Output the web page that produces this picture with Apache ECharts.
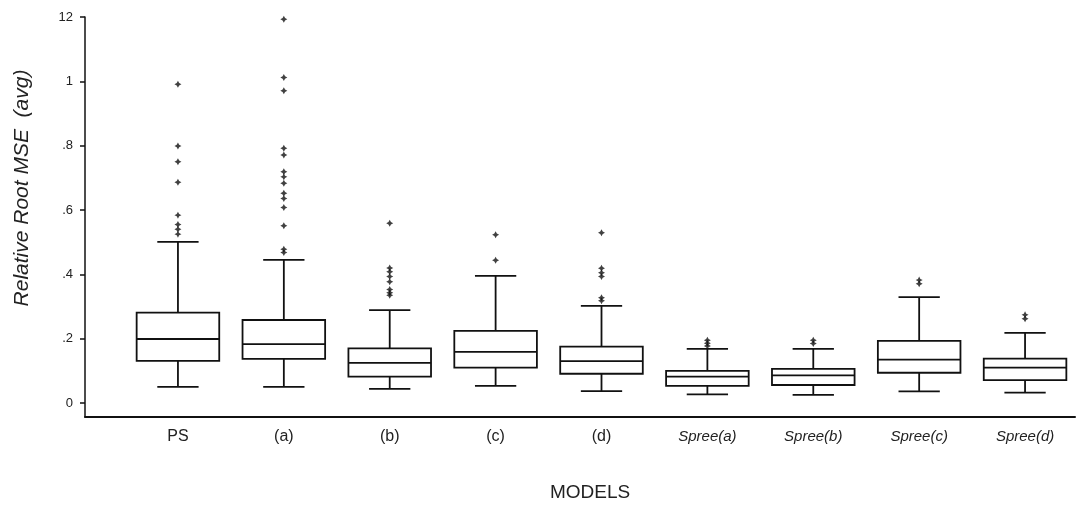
<!DOCTYPE html>
<html>
<head>
<meta charset="utf-8">
<script src="https://cdn.jsdelivr.net/npm/echarts@6/dist/echarts.min.js"></script>
<style>
  html, body { margin: 0; padding: 0; background: #fff; }
  #chart { width: 1082px; height: 513px; }
</style>
</head>
<body>
<div id="chart"></div>
<script>
// Model names along the horizontal axis
const categories = ['PS', '(a)', '(b)', '(c)', '(d)', 'Spree(a)', 'Spree(b)', 'Spree(c)', 'Spree(d)'];

// Five-number summaries of Relative Root MSE for each model
const lowerWhisker = [0.050, 0.050, 0.044, 0.053, 0.037, 0.027, 0.025, 0.036, 0.032];
const quartile1    = [0.131, 0.137, 0.082, 0.110, 0.091, 0.053, 0.056, 0.094, 0.071];
const medians      = [0.199, 0.183, 0.125, 0.159, 0.130, 0.082, 0.086, 0.135, 0.110];
const quartile3    = [0.281, 0.258, 0.170, 0.224, 0.175, 0.100, 0.106, 0.193, 0.138];
const upperWhisker = [0.501, 0.445, 0.289, 0.395, 0.302, 0.168, 0.168, 0.329, 0.218];

// Outlying observations per model
const outlierPS = [0.991, 0.799, 0.750, 0.686, 0.584, 0.555, 0.540, 0.525];
const outlierA  = [1.193, 1.012, 0.971, 0.792, 0.771, 0.719, 0.703, 0.683, 0.652, 0.636, 0.608, 0.551, 0.478, 0.468];
const outlierB  = [0.559, 0.420, 0.408, 0.393, 0.377, 0.353, 0.343, 0.335];
const outlierC  = [0.523, 0.444];
const outlierD  = [0.529, 0.419, 0.405, 0.393, 0.327, 0.318];
const outlierSA = [0.195, 0.186, 0.177];
const outlierSB = [0.195, 0.185];
const outlierSC = [0.382, 0.371];
const outlierSD = [0.274, 0.262];
const outliers = [outlierPS, outlierA, outlierB, outlierC, outlierD, outlierSA, outlierSB, outlierSC, outlierSD];

// Y-axis tick labels, bottom to top
const yTickLabels = ['0', '.2', '.4', '.6', '.8', '1', '12'];

const boxData = categories.map((c, i) => [i, lowerWhisker[i], quartile1[i], medians[i], quartile3[i], upperWhisker[i]]);
const outlierData = [];
outliers.forEach((list, i) => list.forEach(v => outlierData.push([i, v])));

const INK = '#111';
const FONT = 'Liberation Sans, Arial, sans-serif';

// Box, median, whiskers and half-width whisker caps for one model
function renderBox(params, api) {
  const i = api.value(0);
  const lo = api.coord([i, api.value(1)]);
  const q1 = api.coord([i, api.value(2)]);
  const md = api.coord([i, api.value(3)]);
  const q3 = api.coord([i, api.value(4)]);
  const hi = api.coord([i, api.value(5)]);
  const band = api.coord([1, 0])[0] - api.coord([0, 0])[0];
  const half = band * 0.39;
  const cap = half / 2;
  const x = lo[0];
  const stroke = { stroke: INK, lineWidth: 1.8, fill: null };
  return {
    type: 'group',
    children: [
      { type: 'line', shape: { x1: x, y1: hi[1], x2: x, y2: q3[1] }, style: stroke },
      { type: 'line', shape: { x1: x, y1: q1[1], x2: x, y2: lo[1] }, style: stroke },
      { type: 'line', shape: { x1: x - cap, y1: hi[1], x2: x + cap, y2: hi[1] }, style: stroke },
      { type: 'line', shape: { x1: x - cap, y1: lo[1], x2: x + cap, y2: lo[1] }, style: stroke },
      { type: 'rect', shape: { x: x - half, y: q3[1], width: half * 2, height: q1[1] - q3[1] },
        style: { stroke: INK, lineWidth: 1.8, fill: '#fff' } },
      { type: 'line', shape: { x1: x - half, y1: md[1], x2: x + half, y2: md[1] }, style: stroke }
    ]
  };
}

const chart = echarts.init(document.getElementById('chart'), null, { renderer: 'canvas' });

chart.setOption({
  backgroundColor: '#fff',
  animation: false,
  grid: [
    // frame: full-length axis lines
    { left: 85, right: 7, top: 17, bottom: 96 },
    // plotting area for the models
    { left: 125, width: 953, top: 17, bottom: 110 }
  ],
  xAxis: [
    {
      gridIndex: 0, type: 'value', min: 0, max: 1,
      axisLine: { show: true, lineStyle: { color: INK, width: 2 } },
      axisTick: { show: false }, axisLabel: { show: false }, splitLine: { show: false },
      name: 'MODELS', nameLocation: 'middle', nameGap: 66,
      nameTextStyle: { fontFamily: FONT, fontSize: 19, color: '#222', padding: [0, 0, 0, 20] }
    },
    {
      gridIndex: 1, type: 'category', data: categories,
      axisLine: { show: false }, axisTick: { show: false }, splitLine: { show: false },
      axisLabel: {
        interval: 0, hideOverlap: false,
        margin: 26, fontFamily: FONT, fontSize: 16, color: '#222',
        formatter: v => v.indexOf('Spree') === 0 ? '{it|' + v + '}' : v,
        rich: { it: { fontStyle: 'italic', fontFamily: FONT, fontSize: 15, color: '#222' } }
      }
    }
  ],
  yAxis: [
    {
      gridIndex: 0, type: 'value', min: 0, max: 1,
      axisLine: { show: true, lineStyle: { color: INK, width: 1.5 } },
      axisTick: { show: false }, axisLabel: { show: false }, splitLine: { show: false }
    },
    {
      gridIndex: 1, type: 'value', min: 0, max: 1.2, interval: 0.2, offset: 40,
      axisLine: { show: false },
      axisTick: { show: true, length: 5, lineStyle: { color: INK, width: 1.5 } },
      splitLine: { show: false },
      axisLabel: {
        margin: 12, fontFamily: FONT, fontSize: 13, color: '#222',
        formatter: (v, idx) => yTickLabels[idx]
      },
      name: 'Relative Root MSE  (avg)', nameLocation: 'middle', nameGap: 52,
      nameTextStyle: { fontFamily: FONT, fontSize: 21, fontStyle: 'italic', color: '#222', padding: [0, 0, 0, 44] }
    }
  ],
  series: [
    {
      type: 'custom', xAxisIndex: 1, yAxisIndex: 1,
      data: boxData, renderItem: renderBox,
      encode: { x: 0, y: [1, 2, 3, 4, 5] }, silent: true
    },
    {
      type: 'scatter', xAxisIndex: 1, yAxisIndex: 1,
      data: outlierData,
      symbol: 'path://M0,-1 L0.35,-0.35 L1,0 L0.35,0.35 L0,1 L-0.35,0.35 L-1,0 L-0.35,-0.35 Z',
      symbolSize: 7,
      itemStyle: { color: INK }, silent: true
    }
  ]
});
</script>
</body>
</html>
